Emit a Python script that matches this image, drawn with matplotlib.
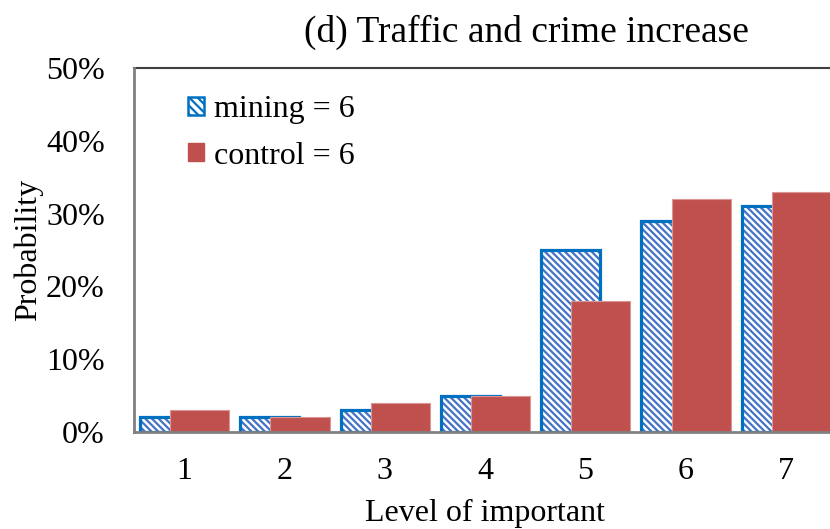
import matplotlib
matplotlib.use("Agg")
import matplotlib.pyplot as plt
import numpy as np
from matplotlib.patches import Patch
from matplotlib.ticker import FuncFormatter

plt.rcParams['font.family'] = ['Liberation Serif', 'DejaVu Serif']
plt.rcParams['hatch.linewidth'] = 1.6

categories = ['1', '2', '3', '4', '5', '6', '7']
mining = [2, 2, 3, 5, 25, 29, 31]
control = [3, 2, 4, 5, 18, 32, 33]
series_names = ['mining = 6', 'control = 6']
title = '(d) Traffic and crime increase'
xlabel = 'Level of important'
ylabel = 'Probability'

W, H = 830, 529
fig = plt.figure(figsize=(W/100, H/100), dpi=100)
ax = fig.add_axes([134/W, (H-432)/H, 702/W, 364/H])

x = np.arange(len(categories))
bw = 0.59
hatch_col = '#4472C4'
edge_col = '#0070C0'
red = '#C0504D'
fs = 23

ax.bar(x - 0.145, mining, bw, color='white', edgecolor=hatch_col, hatch='\\\\\\\\\\', linewidth=0, zorder=2)
ax.bar(x - 0.145, mining, bw, fill=False, edgecolor=edge_col, linewidth=2.3, zorder=3)
ax.bar(x + 0.155, control, bw, color=red, edgecolor='#D99694', linewidth=0.8, zorder=4)

ax.set_xlim(-0.5, len(categories) - 0.5)
ax.set_ylim(0, 50)
ax.set_yticks([0, 10, 20, 30, 40, 50])
ax.yaxis.set_major_formatter(FuncFormatter(lambda v, p: f'{int(v)}%'))
ax.set_xticks(x)
ax.set_xticklabels(categories)
ax.tick_params(axis='both', length=0, labelsize=fs)
ax.tick_params(axis='y', pad=21)
ax.tick_params(axis='x', pad=18)

for s in ['left', 'bottom']:
    ax.spines[s].set_color('#808080')
    ax.spines[s].set_linewidth(2)
    ax.spines[s].set_zorder(5)
ax.spines['top'].set_color('#404040')
ax.spines['top'].set_linewidth(1.5)
ax.spines['right'].set_visible(False)

ax.set_xlabel(xlabel, fontsize=fs, labelpad=9)
ax.set_ylabel(ylabel, fontsize=fs, labelpad=2)

fig.text(526/W, 1 - 32/H, title, fontsize=27, ha='center', va='center')

handles = [Patch(facecolor='white', edgecolor=edge_col, hatch='\\\\\\\\', linewidth=1.8),
           Patch(facecolor=red, edgecolor=red)]
leg = ax.legend(handles, series_names, loc='upper left', bbox_to_anchor=(188/W, 1 - 95/H),
                bbox_transform=fig.transFigure, frameon=False, fontsize=fs,
                handlelength=0.5, handleheight=0.5, handletextpad=0.3, labelspacing=0.55,
                borderpad=0, borderaxespad=0)

fig.savefig('out.png', dpi=100)
